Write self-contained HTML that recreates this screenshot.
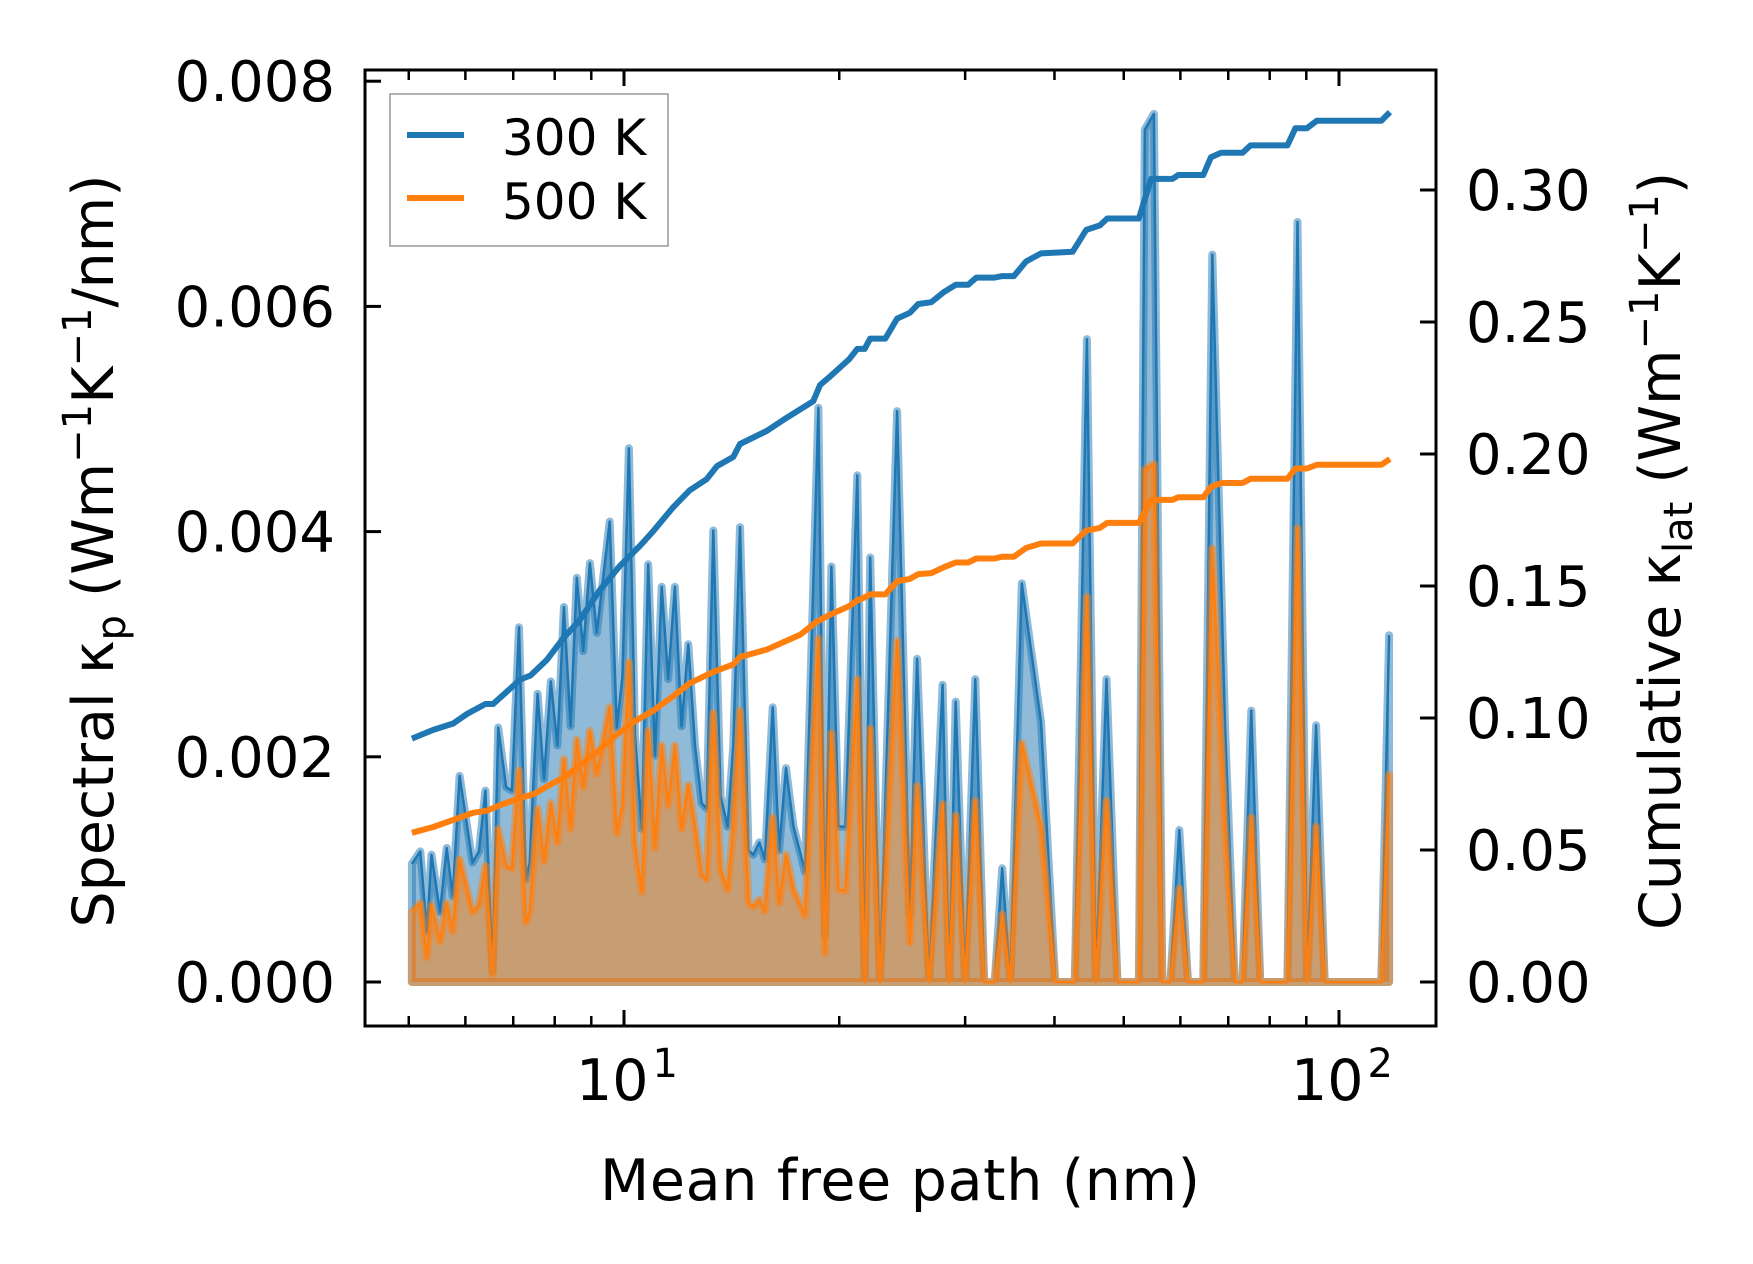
<!DOCTYPE html>
<html><head><meta charset="utf-8"><style>
html,body{margin:0;padding:0;background:#fff;}
svg{display:block;font-family:"DejaVu Sans","Liberation Sans",sans-serif;}
</style></head><body>
<svg id="chart" width="1753" height="1264" viewBox="0 0 1753 1264" xmlns="http://www.w3.org/2000/svg">
<rect x="0" y="0" width="1753" height="1264" fill="#fff"/>
<defs><clipPath id="clip"><rect x="365" y="70" width="1071" height="956"/></clipPath></defs>
<g id="plot" clip-path="url(#clip)"></g>
<g id="axes"></g>
</svg>
<script>
// spectral kappa (units of 1e-3 W m^-1 K^-1 / nm) vs mean free path (nm)
const mfp = [5.05,5.19,5.30,5.38,5.53,5.65,5.76,5.89,6.14,6.27,6.40,6.55,6.67,6.84,6.97,7.13,7.29,7.38,7.57,7.73,7.90,8.07,8.24,8.42,8.59,8.77,8.96,9.16,9.55,9.77,9.95,10.16,10.36,10.59,10.81,11.05,11.29,11.53,11.78,12.04,12.30,12.57,12.84,13.05,13.33,13.65,13.96,14.22,14.53,14.93,15.17,15.46,15.74,16.14,16.48,16.85,17.26,17.91,18.70,19.10,19.50,19.95,
20.4,21.2,21.7,22.1,22.8,24.1,25.1,25.7,26.7,27.9,28.5,29.1,30.0,31.0,31.9,33.0,33.8,34.7,36.0,38.3,40.1,42.7,44.4,45.7,47.3,49.0,52.5,53.5,55.1,56.6,58.1,59.8,61.5,64.6,66.5,69.3,71.5,73.3,75.4,77.6,84.7,87.5,90.2,92.9,95.5,114.6,117.5];
const spec300 = [1.05,1.16,0.45,1.13,0.62,1.19,0.76,1.83,1.06,1.16,1.70,0.09,2.26,1.73,1.70,3.15,0.91,1.06,2.56,1.80,2.67,2.10,3.33,2.27,3.59,2.94,3.72,3.10,4.09,2.26,2.71,4.74,2.19,1.36,3.71,2.01,3.51,2.69,3.51,2.27,3.00,2.10,1.59,1.54,4.01,1.65,1.38,2.10,4.04,1.17,1.13,1.24,1.09,2.44,1.17,1.90,1.38,0.98,5.10,0.42,3.69,1.38,
1.38,4.50,0,3.77,0,5.07,0.60,2.87,0,2.64,0,2.49,0,2.69,0,0,1.01,0,3.54,2.31,0,0,5.71,0,2.69,0,0,7.57,7.71,0,0,1.35,0,0,6.46,2.25,0,0,2.41,0,0,6.75,0,2.28,0,0,3.08];
const spec500 = [0.62,0.70,0.22,0.68,0.36,0.70,0.45,1.09,0.62,0.68,1.03,0.07,1.36,1.03,1.01,1.88,0.53,0.62,1.54,1.07,1.59,1.24,1.98,1.36,2.15,1.73,2.23,1.85,2.44,1.32,1.57,2.84,1.21,0.80,2.23,1.19,2.10,1.57,2.10,1.36,1.75,1.38,0.96,0.91,2.39,0.99,0.82,1.38,2.41,0.70,0.67,0.73,0.63,1.46,0.70,1.13,0.82,0.59,3.05,0.26,2.21,0.82,
0.81,2.69,0,2.25,0,3.03,0.35,1.74,0,1.58,0,1.48,0,1.61,0,0,0.60,0,2.12,1.38,0,0,3.42,0,1.61,0,0,4.55,4.60,0,0,0.83,0,0,3.85,1.35,0,0,1.46,0,0,4.03,0,1.38,0,0,1.84];
// cumulative kappa_lat (W m^-1 K^-1)
const cumMfp300 = [5.05,5.41,5.77,6.03,6.40,6.56,6.93,7.16,7.40,7.80,8.22,8.67,9.25,9.87,10.52,10.99,11.72,12.36,13.05,13.49,14.22,14.53,15.83,16.72,18.4,18.8,19.41,20.65,21.2,21.7,22.1,23.2,24.1,25.1,25.8,26.9,28.0,29.1,30.3,31.1,33.0,33.8,35.1,36.5,38.3,42.4,44.3,46.3,47.4,52.5,54.6,58.5,59.6,64.6,66.2,68.4,73.3,75.2,84.7,86.9,90.2,93.1,114.6,117.8];
const cum300 = [0.0922,0.0955,0.0979,0.1015,0.1053,0.1053,0.1111,0.1146,0.1161,0.1220,0.1301,0.1371,0.1484,0.1576,0.1651,0.1708,0.1799,0.1863,0.1905,0.1954,0.1989,0.2038,0.2087,0.2130,0.2200,0.2261,0.2293,0.2359,0.2398,0.2398,0.2437,0.2437,0.2513,0.2535,0.2568,0.2575,0.2613,0.2641,0.2641,0.2668,0.2668,0.2674,0.2674,0.2729,0.2760,0.2766,0.2849,0.2866,0.2892,0.2892,0.3042,0.3042,0.3057,0.3057,0.3124,0.3141,0.3141,0.3169,0.3169,0.3234,0.3234,0.3262,0.3262,0.3295];
const cumMfp500 = [5.05,5.41,5.77,6.15,6.43,6.71,7.16,7.47,7.88,8.32,8.77,9.25,9.77,10.31,10.99,11.72,12.36,13.34,14.22,14.53,15.83,17.63,18.59,19.41,20.65,21.2,21.7,22.1,23.2,24.1,25.1,25.8,26.9,28.0,29.1,30.3,31.1,33.0,33.8,35.1,36.5,38.3,42.4,44.3,46.3,47.4,52.5,54.6,58.5,59.6,64.6,66.2,68.4,73.3,75.2,84.7,86.9,90.2,93.1,114.6,117.8];
const cum500 = [0.0565,0.0587,0.0614,0.0641,0.0649,0.0670,0.0697,0.0711,0.0747,0.0782,0.0831,0.0880,0.0937,0.0985,0.1028,0.1083,0.1132,0.1175,0.1203,0.1231,0.1259,0.1315,0.1364,0.1391,0.1424,0.1446,0.1457,0.1468,0.1468,0.1518,0.1527,0.1545,0.1549,0.1571,0.1589,0.1589,0.1604,0.1604,0.1611,0.1611,0.1644,0.1661,0.1661,0.1710,0.1720,0.1739,0.1739,0.1826,0.1826,0.1836,0.1836,0.1875,0.1890,0.1890,0.1906,0.1906,0.1945,0.1945,0.1959,0.1959,0.1981];
const leftTicks = [0,2,4,6,8];
const leftTickLabels = ["0.000","0.002","0.004","0.006","0.008"];
const rightTicks = [0,0.05,0.10,0.15,0.20,0.25,0.30];
const rightTickLabels = ["0.00","0.05","0.10","0.15","0.20","0.25","0.30"];
const xMajor = [10,100];
const xMajorExp = ["1","2"];
const xMinor = [5,6,7,8,9,20,30,40,50,60,70,80,90];

const NS="http://www.w3.org/2000/svg";
const L=365,R=1436,T=70,B=1026;
function X(nm){return 624+(Math.log10(nm)-1)*715;}
function YL(v){return 982-v*112.6;}
function YR(c){return 982-c*2640;}
function mk(tag,attrs,parent){const e=document.createElementNS(NS,tag);for(const k in attrs)e.setAttribute(k,attrs[k]);parent.appendChild(e);return e;}
const plot=document.getElementById('plot'), axes=document.getElementById('axes');

function spectral(vals,color,name){
  let pts=mfp.map((m,i)=>X(m).toFixed(1)+','+YL(vals[i]).toFixed(1));
  const d='M'+X(mfp[0]).toFixed(1)+','+YL(0)+' L'+pts.join(' L')+' L'+X(mfp[mfp.length-1]).toFixed(1)+','+YL(0)+' Z';
  const f=mk('path',{d:d,fill:color,'fill-opacity':0.5,stroke:color,'stroke-opacity':0.5,'stroke-width':8,'stroke-linejoin':'round'},plot);
  
  
  const l=mk('path',{d:'M'+pts.join(' L'),fill:'none',stroke:color,'stroke-width':2.5,'stroke-linejoin':'round'},plot);
  
  
}
function cumLine(xs,vals,color,name){
  const d='M'+xs.map((m,i)=>X(m).toFixed(1)+','+YR(vals[i]).toFixed(1)).join(' L');
  const l=mk('path',{d:d,fill:'none',stroke:color,'stroke-width':6,'stroke-linejoin':'round'},plot);
  
  
}
spectral(spec300,'#1f77b4','spectral-300k');
spectral(spec500,'#ff7f0e','spectral-500k');
cumLine(cumMfp500,cum500,'#ff7f0e','cumulative-500k-line');
cumLine(cumMfp300,cum300,'#1f77b4','cumulative-300k-line');

const fr=mk('rect',{x:L,y:T,width:R-L,height:B-T,fill:'none',stroke:'#000','stroke-width':3},axes);


leftTicks.forEach((v,i)=>{
  const y=YL(v);
  const t=mk('line',{x1:L,x2:L+16,y1:y,y2:y,stroke:'#000','stroke-width':3},axes);
  
  
  const tx=mk('text',{x:335,y:y+20,'text-anchor':'end','font-size':56,fill:'#000'},axes);
  tx.textContent=leftTickLabels[i];
  
  
});
rightTicks.forEach((v,i)=>{
  const y=YR(v);
  const t=mk('line',{x1:R-16,x2:R,y1:y,y2:y,stroke:'#000','stroke-width':3},axes);
  
  
  const tx=mk('text',{x:1466,y:y+20,'text-anchor':'start','font-size':56,fill:'#000'},axes);
  tx.textContent=rightTickLabels[i];
  
  
});
xMajor.forEach((v,i)=>{
  const x=X(v);
  [[B,B-16],[T,T+16]].forEach(p=>{
    const t=mk('line',{x1:x,x2:x,y1:p[0],y2:p[1],stroke:'#000','stroke-width':3},axes);
    
    
  });
  const tx=mk('text',{x:x-48,y:1100,'font-size':57,fill:'#000'},axes);
  
  
  tx.appendChild(document.createTextNode('10'));
  const s=mk('tspan',{'font-size':40,dy:-23,dx:4},tx);
  s.textContent=xMajorExp[i];
});
xMinor.forEach(v=>{
  const x=X(v);
  [[B,B-10],[T,T+10]].forEach(p=>{
    const t=mk('line',{x1:x,x2:x,y1:p[0],y2:p[1],stroke:'#000','stroke-width':2.5},axes);
    
    
  });
});
</script>
<svg style="position:absolute;left:0;top:0" width="1753" height="1264" viewBox="0 0 1753 1264" xmlns="http://www.w3.org/2000/svg" font-family="DejaVu Sans, Liberation Sans, sans-serif">
<g>
<rect x="390" y="94" width="278" height="152" fill="#fff" fill-opacity="0.8" stroke="#999" stroke-width="1.5"/>
<line x1="407" y1="135" x2="464" y2="135" stroke="#1f77b4" stroke-width="6"/>
<text x="502" y="155" font-size="50" fill="#000">300 K</text>
<line x1="407" y1="198" x2="464" y2="198" stroke="#ff7f0e" stroke-width="6"/>
<text x="502" y="219" font-size="50" fill="#000">500 K</text>
</g>
<text x="900" y="1200" text-anchor="middle" font-size="57" textLength="600" fill="#000">Mean free path (nm)</text>
<text transform="translate(113,551) rotate(-90)" text-anchor="middle" font-size="57" fill="#000">Spectral κ<tspan font-size="40" dy="12">p</tspan><tspan dy="-12"> (Wm</tspan><tspan font-size="40" dy="-22">−1</tspan><tspan dy="22">K</tspan><tspan font-size="40" dy="-22">−1</tspan><tspan dy="22">/nm)</tspan></text>
<text transform="translate(1680,551) rotate(-90)" text-anchor="middle" font-size="57" fill="#000">Cumulative κ<tspan font-size="40" dy="12">lat</tspan><tspan dy="-12"> (Wm</tspan><tspan font-size="40" dy="-22">−1</tspan><tspan dy="22">K</tspan><tspan font-size="40" dy="-22">−1</tspan><tspan dy="22">)</tspan></text>
</svg>
</body></html>
